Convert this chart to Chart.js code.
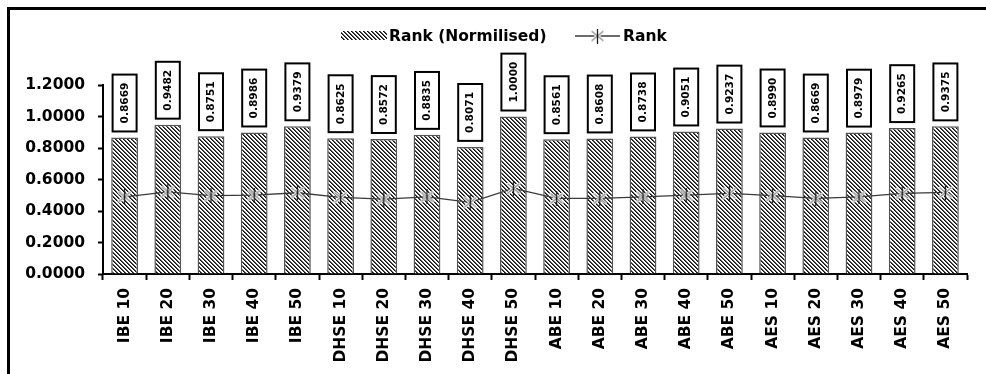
<!DOCTYPE html>
<html>
<head>
<meta charset="utf-8">
<script src="https://cdn.jsdelivr.net/npm/chart.js@4.4.1/dist/chart.umd.min.js"></script>
<style>
  html, body { margin: 0; padding: 0; background: #fff; }
  #wrap { position: relative; width: 986px; height: 374px; }
</style>
</head>
<body>
<div id="wrap"><canvas id="chart"></canvas></div>
<script>
// Categories and series
const categories = ['IBE 10', 'IBE 20', 'IBE 30', 'IBE 40', 'IBE 50',
  'DHSE 10', 'DHSE 20', 'DHSE 30', 'DHSE 40', 'DHSE 50',
  'ABE 10', 'ABE 20', 'ABE 30', 'ABE 40', 'ABE 50',
  'AES 10', 'AES 20', 'AES 30', 'AES 40', 'AES 50'];
const rankNormalised = [0.8669, 0.9482, 0.8751, 0.8986, 0.9379,
  0.8625, 0.8572, 0.8835, 0.8071, 1.0000,
  0.8561, 0.8608, 0.8738, 0.9051, 0.9237,
  0.8990, 0.8669, 0.8979, 0.9265, 0.9375];
const rank = [0.490, 0.522, 0.497, 0.501, 0.516,
  0.486, 0.476, 0.490, 0.455, 0.543,
  0.480, 0.480, 0.490, 0.501, 0.512,
  0.497, 0.480, 0.490, 0.512, 0.518];
const yTickValues = [0, 0.2, 0.4, 0.6, 0.8, 1.0, 1.2];
const seriesNames = ['Rank (Normilised)', 'Rank'];

const FONT = '"DejaVu Sans", sans-serif';

// Diagonal hatch fill for the bars
function makeHatch() {
  const c = document.createElement('canvas');
  c.width = 4; c.height = 4;
  const g = c.getContext('2d');
  g.fillStyle = '#fff';
  g.fillRect(0, 0, 4, 4);
  for (let y = 0; y < 4; y++) {
    g.fillStyle = '#0d0d0d';
    g.fillRect(y % 4, y, 1, 1);
    g.fillStyle = '#5a5a5a';
    g.fillRect((y + 1) % 4, y, 1, 1);
  }
  return document.getElementById('chart').getContext('2d').createPattern(c, 'repeat');
}
const hatch = makeHatch();

// Asterisk-style marker: an X crossed by a vertical stroke
function makeMarker() {
  const s = 15;
  const c = document.createElement('canvas');
  c.width = s; c.height = s;
  const g = c.getContext('2d');
  g.lineCap = 'round';
  g.strokeStyle = '#fff';
  g.lineWidth = 3;
  g.beginPath();
  g.moveTo(2, 3); g.lineTo(13, 12);
  g.moveTo(13, 3); g.lineTo(2, 12);
  g.stroke();
  g.strokeStyle = '#8c8c8c';
  g.lineWidth = 1.3;
  g.stroke();
  g.strokeStyle = '#1a1a1a';
  g.lineWidth = 1.3;
  g.beginPath();
  g.moveTo(7.5, 0.5); g.lineTo(7.5, 14.5);
  g.stroke();
  return c;
}
const marker = makeMarker();

// Boxed, rotated value labels above each bar
const valueBoxes = {
  id: 'valueBoxes',
  afterDatasetsDraw(chart) {
    const ctx = chart.ctx;
    const meta = chart.getDatasetMeta(0);
    const values = chart.data.datasets[0].data;
    ctx.save();
    ctx.font = 'bold 10.6px ' + FONT;
    meta.data.forEach((bar, i) => {
      const txt = values[i].toFixed(4);
      const tw = ctx.measureText(txt).width;
      const h = tw + 16, w = 24;
      const bottom = bar.y - 6;
      ctx.fillStyle = '#fff';
      ctx.fillRect(bar.x - w / 2, bottom - h, w, h);
      ctx.lineWidth = 2;
      ctx.strokeStyle = '#000';
      ctx.strokeRect(bar.x - w / 2, bottom - h, w, h);
      ctx.save();
      ctx.translate(bar.x, bottom - h / 2);
      ctx.rotate(-Math.PI / 2);
      ctx.fillStyle = '#000';
      ctx.textAlign = 'center';
      ctx.textBaseline = 'middle';
      ctx.fillText(txt, 0, 0.5);
      ctx.restore();
    });
    ctx.restore();
  }
};

// Legend row and the outer frame lines
const legendAndFrame = {
  id: 'legendAndFrame',
  afterDraw(chart) {
    const ctx = chart.ctx;
    ctx.save();
    const cy = 36;
    ctx.font = 'bold 15.5px ' + FONT;
    ctx.textBaseline = 'middle';
    // bar swatch
    ctx.fillStyle = hatch;
    ctx.fillRect(341, cy - 5, 46, 9);
    ctx.fillStyle = '#000';
    ctx.fillText(seriesNames[0], 389, cy + 0.5);
    // line swatch
    ctx.strokeStyle = '#3a3a3a';
    ctx.lineWidth = 1.3;
    ctx.beginPath();
    ctx.moveTo(575, cy); ctx.lineTo(620, cy);
    ctx.stroke();
    ctx.drawImage(marker, 597.5 - marker.width / 2, cy - marker.height / 2);
    ctx.fillStyle = '#000';
    ctx.fillText(seriesNames[1], 623, cy + 0.5);
    // frame
    ctx.fillStyle = '#000';
    ctx.fillRect(7, 7, 979, 3);
    ctx.fillRect(7, 7, 3, 367);
    ctx.restore();
  }
};

Chart.defaults.font.family = FONT;
Chart.defaults.color = '#000';

new Chart(document.getElementById('chart'), {
  data: {
    labels: categories,
    datasets: [
      {
        type: 'bar',
        label: seriesNames[0],
        data: rankNormalised,
        backgroundColor: hatch,
        borderColor: '#555',
        borderWidth: 1.5,
        barPercentage: 0.62,
        categoryPercentage: 1.0,
        order: 2
      },
      {
        type: 'line',
        label: seriesNames[1],
        data: rank,
        borderColor: '#3a3a3a',
        borderWidth: 1.3,
        pointStyle: marker,
        pointRadius: 7,
        tension: 0,
        fill: false,
        order: 1
      }
    ]
  },
  options: {
    responsive: true,
    maintainAspectRatio: false,
    devicePixelRatio: 1,
    animation: false,
    layout: { padding: { top: 85, right: 19, bottom: 0, left: 0 } },
    plugins: {
      legend: { display: false },
      tooltip: { enabled: false }
    },
    scales: {
      x: {
        type: 'category',
        offset: true,
        grid: {
          offset: true,
          drawOnChartArea: false,
          drawTicks: true,
          tickLength: 6,
          tickWidth: 2,
          tickColor: '#000'
        },
        border: { display: true, color: '#000', width: 2 },
        ticks: {
          autoSkip: false,
          maxRotation: 90,
          minRotation: 90,
          padding: 8,
          font: { size: 15.5, weight: 'bold' },
          color: '#000'
        },
        afterFit(scale) { scale.height = 100; }
      },
      y: {
        min: 0,
        max: 1.2,
        afterBuildTicks(scale) { scale.ticks = yTickValues.map(v => ({ value: v })); },
        grid: {
          drawOnChartArea: false,
          drawTicks: true,
          tickLength: 5,
          tickWidth: 2,
          tickColor: '#000'
        },
        border: { display: true, color: '#000', width: 2 },
        ticks: {
          padding: 13,
          font: { size: 15.5, weight: 'bold' },
          color: '#000',
          callback: v => Number(v).toFixed(4)
        },
        afterFit(scale) { scale.width = 103; }
      }
    }
  },
  plugins: [valueBoxes, legendAndFrame]
});
</script>
</body>
</html>
